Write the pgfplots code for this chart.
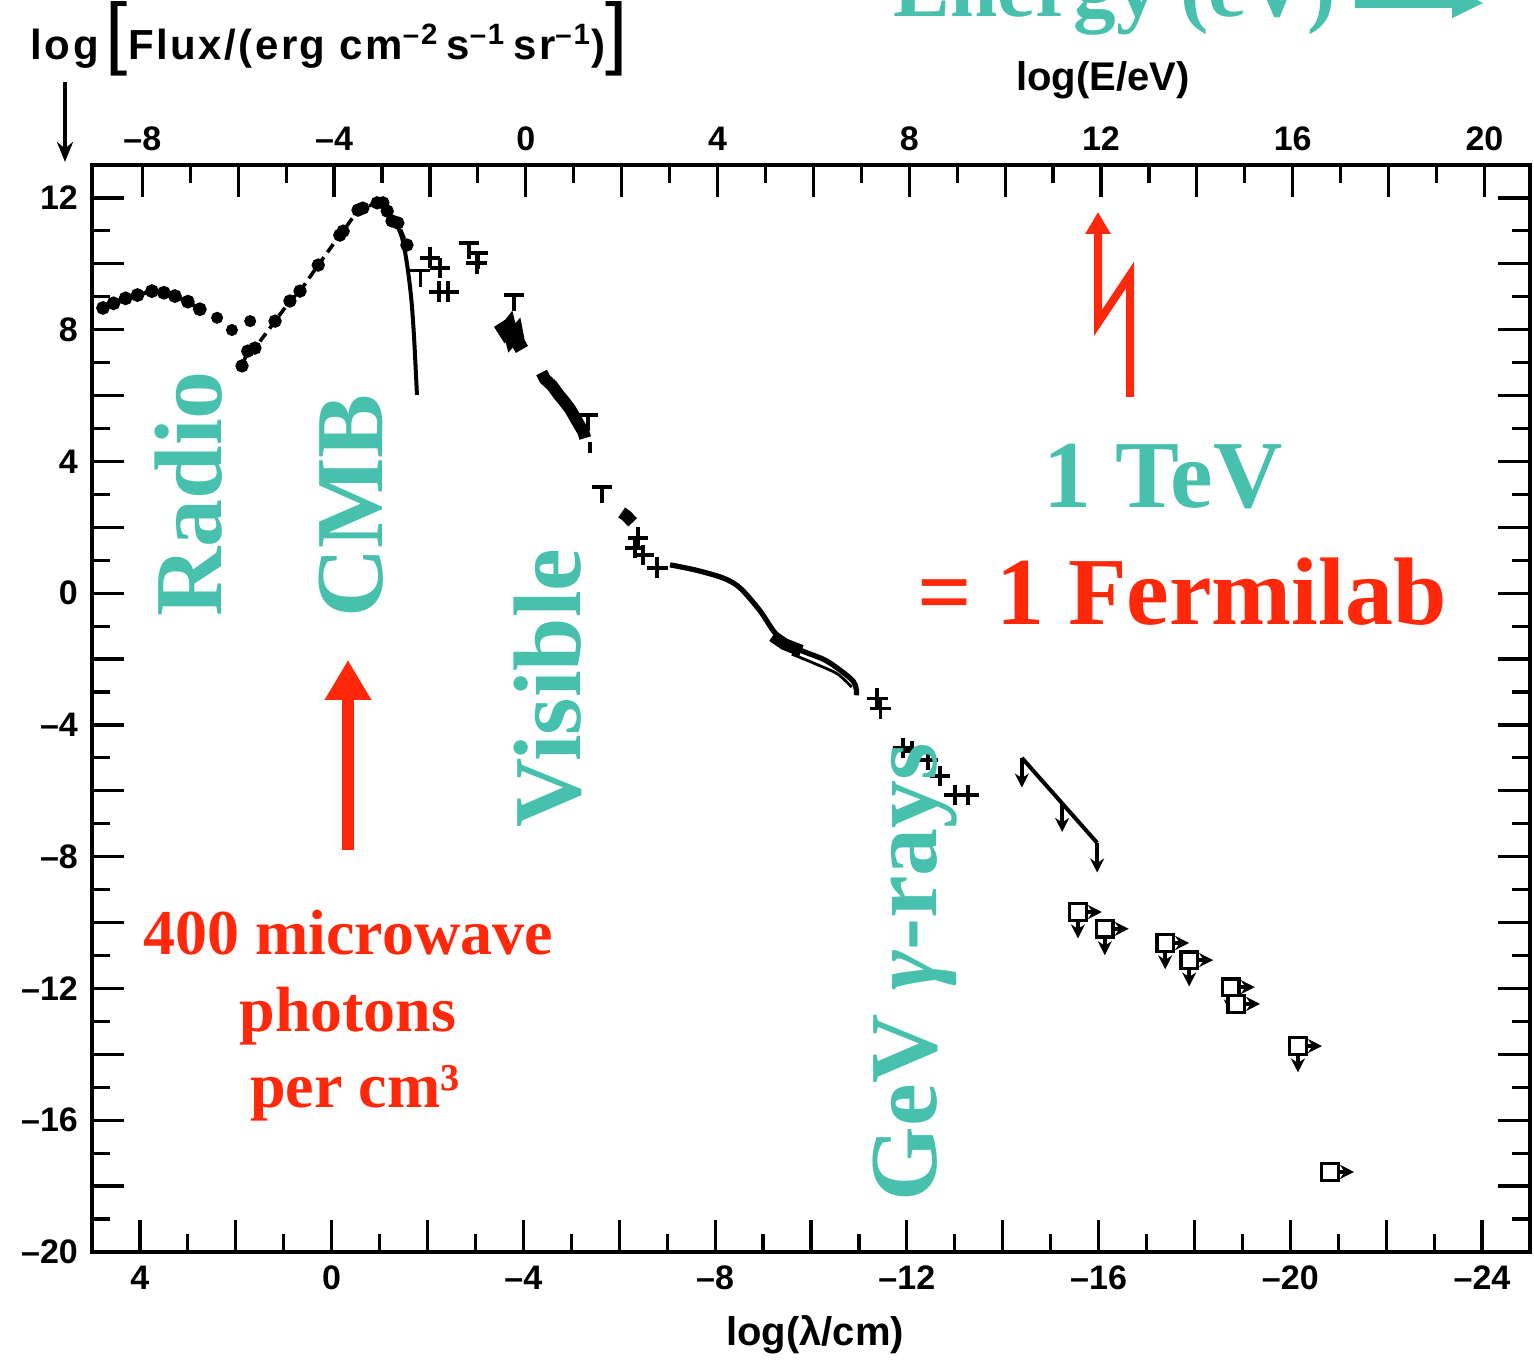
\documentclass[border=0pt]{standalone}
\usepackage{fontspec}
\usepackage{pgfplots}
\pgfplotsset{compat=1.18}
\usetikzlibrary{arrows.meta}
\setmainfont{Liberation Sans}
\newfontfamily\tnr{Liberation Serif}
\definecolor{bandteal}{RGB}{71,193,174}
\definecolor{notered}{RGB}{255,40,10}

\begin{document}
\begin{tikzpicture}
\pgfplotsset{
  frame/.style={scale only axis, width=359.5pt, height=271.75pt, ymin=-20, ymax=13,
    tick align=inside, major tick length=8pt, minor tick length=4.5pt,
    every tick/.append style={black, line width=0.8pt},
    tick label style={font=\bfseries\fontsize{8.5}{10}\selectfont},
  },
  dat/.style={black, line width=1pt},
  ul/.style={black, line width=0.9pt, -{Stealth[length=3.5pt,width=3.5pt]}},
  tee/.style={black, line width=0.9pt, {Bar[width=5pt]}-},
}
% main axis: wavelength and flux
\begin{axis}[frame,
  clip=false,
  x dir=reverse, xmin=-25, xmax=5,
  axis line style={line width=1pt},
  xtick pos=bottom, ytick pos=both,
  xtick={-24,-22,...,4},
  xticklabels={--24,,--20,,--16,,--12,,--8,,--4,,0,,4},
  minor x tick num=1,
  ytick={-20,-18,...,12},
  yticklabels={--20,,--16,,--12,,--8,,--4,,0,,4,,8,,12},
  minor y tick num=1,
]
% radio
\addplot[dat, mark=*, mark size=1.2pt] coordinates {
  (4.77,8.66) (4.55,8.80) (4.30,8.95) (4.05,9.05) (3.75,9.17) (3.50,9.12)
  (3.27,9.02) (3.00,8.85) (2.75,8.62)};
\addplot[only marks, mark=*, mark size=1.3pt] coordinates {
  (2.39,8.36) (2.08,7.99) (1.70,8.26)};
% CMB rise
\addplot[dat, line width=0.9pt, dash pattern=on 2.5pt off 1.5pt,
  mark=*, mark size=1.2pt, mark options={solid}] coordinates {
  (1.87,6.90) (1.75,7.35) (1.60,7.44) (1.18,8.26) (0.87,8.87) (0.66,9.17)
  (0.28,9.96) (-0.17,10.87) (-0.24,10.99) (-0.55,11.63) (-0.65,11.69)
  (-0.95,11.85) (-1.07,11.85) (-1.16,11.60) (-1.26,11.30) (-1.38,11.24)
  (-1.57,10.57)};
% blackbody fall
\addplot[dat, smooth] coordinates {
  (-1.32,11.33) (-1.47,10.78) (-1.57,10.02) (-1.66,8.96) (-1.72,7.75) (-1.78,6.02)};
% infrared limits
\addplot[tee, quiver={u=0,v=-0.55}] coordinates {
  (-1.85,9.85) (-2.87,10.69) (-3.05,10.39) (-3.80,9.11) (-5.35,5.47) (-5.64,3.28)};
\addplot[only marks, mark=+, mark size=2.6pt, line width=0.9pt] coordinates {
  (-2.05,10.18) (-2.26,9.87) (-2.24,9.15) (-2.43,9.15) (-3.03,10.02)
  (-6.39,1.68) (-6.33,1.37) (-6.50,1.16) (-6.79,0.77)};
% near infrared / visible
\addplot[dat, line width=3.5pt] coordinates {
  (-3.51,8.20) (-3.62,7.95) (-3.70,8.10) (-3.76,7.75) (-3.85,7.90)
  (-3.89,7.60) (-3.97,7.40)};
\addplot[dat, line width=3pt] coordinates {
  (-4.38,6.70) (-4.45,6.50) (-4.60,6.30) (-4.75,6.00) (-4.81,5.90)
  (-4.97,5.60) (-5.05,5.40) (-5.14,5.17) (-5.25,4.90) (-5.29,4.71)};
\addplot[dat] coordinates {(-5.39,4.60) (-5.39,4.25)};
\addplot[dat, line width=3pt] coordinates {(-6.05,2.45) (-6.15,2.35) (-6.28,2.15)};
% ultraviolet to x-ray
\addplot[dat, line width=1.3pt, smooth] coordinates {
  (-7.06,0.86) (-7.60,0.70) (-8.17,0.46) (-8.52,0.16) (-8.94,-0.54)
  (-9.29,-1.27) (-9.77,-1.72) (-10.33,-2.06) (-10.88,-2.67) (-10.95,-3.10)};
\addplot[dat, line width=0.7pt, smooth] coordinates {
  (-9.60,-1.85) (-10.10,-2.15) (-10.55,-2.45) (-10.85,-2.85)};
\addplot[dat, line width=3pt] coordinates {(-9.20,-1.30) (-9.45,-1.55) (-9.80,-1.75)};
\addplot[only marks, mark=+, mark size=2.6pt, line width=0.9pt] coordinates {
  (-11.38,-3.20) (-11.45,-3.50) (-11.92,-4.70) (-12.11,-4.79)
  (-12.44,-5.06) (-12.69,-5.55) (-13.00,-6.13) (-13.28,-6.13)};
% gamma rays
\addplot[dat] coordinates {(-14.40,-5.00) (-15.97,-7.58)};
\addplot[ul, quiver={u=0,v=-0.9}] coordinates {
  (-14.40,-5.00) (-15.24,-6.35) (-15.97,-7.58)};
\addplot[ul, quiver={u=0,v=-0.8}] coordinates {
  (-15.57,-9.68) (-16.13,-10.19) (-17.39,-10.62) (-17.89,-11.14)
  (-18.76,-11.96) (-20.16,-13.75)};
\addplot[ul, quiver={u=-0.45,v=0}] coordinates {
  (-15.62,-9.68) (-16.18,-10.19) (-17.44,-10.62) (-17.94,-11.14)
  (-18.81,-11.96) (-18.92,-12.47) (-20.21,-13.75) (-20.88,-17.57)};
\addplot[only marks, mark=square*, mark size=2.1pt, line width=0.9pt,
  mark options={fill=white, draw=black}] coordinates {
  (-15.57,-9.68) (-16.13,-10.19) (-17.39,-10.62) (-17.89,-11.14)
  (-18.76,-11.96) (-18.87,-12.47) (-20.16,-13.75) (-20.83,-17.57)};
\coordinate (O) at (rel axis cs:0,1);
\end{axis}
% top axis: photon energy
\begin{axis}[frame,
  xmin=-9.05, xmax=20.95,
  axis x line*=top, hide y axis,
  axis line style={line width=1pt, -},
  xtick={-8,-6,...,20},
  xticklabels={--8,,--4,,0,,4,,8,,12,,16,,20},
  minor x tick num=1,
]
\addplot[draw=none] coordinates {(0,0)};
\end{axis}
\pgfresetboundingbox
\begin{scope}[shift={(O)}, x=0.25pt, y=-0.25pt, shift={(-92,-165)}]
\useasboundingbox (0,0) rectangle (1534,1367);
\node[anchor=base west, inner sep=0pt, font=\bfseries\fontsize{10.5}{12}\selectfont\addfontfeature{LetterSpace=6}] at (30,60)
  {log\,{\fontsize{20}{20}\selectfont\mdseries[}Flux/(erg cm\textsuperscript{--2}\,s\textsuperscript{--1}\,sr\textsuperscript{--1}){\fontsize{20}{20}\selectfont\mdseries]}};
\draw[line width=1pt, -{Stealth[length=5pt,width=4pt]}] (65,82) -- (65,162);
\node[font=\bfseries\fontsize{10}{12}\selectfont] at (1103,80) {log(E/eV)};
\node[font=\bfseries\fontsize{10}{12}\selectfont] at (815,1335) {log(λ/cm)};
% coloured notes
\begin{scope}[every node/.style={inner sep=0pt, font=\tnr\bfseries\fontsize{24}{26}\selectfont}]
\node[text=bandteal, anchor=base] at (1115,17) {\fontsize{21.3}{24}\selectfont Energy (eV)};
\draw[bandteal, line width=2.5pt, -{Triangle[length=8pt,width=7pt]}] (1355,3) -- (1484,3);
\node[text=bandteal, rotate=90, anchor=base] at (221,494) {Radio};
\node[text=bandteal, rotate=90, anchor=base] at (382,506) {CMB};
\node[text=bandteal, rotate=90, anchor=base] at (580,688) {Visible};
\node[text=bandteal, rotate=90, anchor=base] at (936,972) {GeV {\itshape γ}-rays};
\node[text=bandteal, anchor=base] at (1163,508) {1 TeV};
\node[text=notered, anchor=base] at (1182,625) {= 1 Fermilab};
\node[text=notered, anchor=base, font=\tnr\bfseries\fontsize{16}{18}\selectfont] at (348,955) {400 microwave};
\node[text=notered, anchor=base, font=\tnr\bfseries\fontsize{16}{18}\selectfont] at (348,1032) {photons};
\node[text=notered, anchor=base, font=\tnr\bfseries\fontsize{16}{18}\selectfont] at (355,1108) {per cm³};
\end{scope}
\draw[notered, line width=3pt, -{Triangle[length=10pt,width=11pt]}] (348,850) -- (348,660);
\draw[notered, line width=2pt, -{Triangle[length=5.5pt,width=6pt]}, line join=miter]
  (1130,397) -- (1130,275) -- (1098,323) -- (1098,212);
\end{scope}
\end{tikzpicture}
\end{document}
